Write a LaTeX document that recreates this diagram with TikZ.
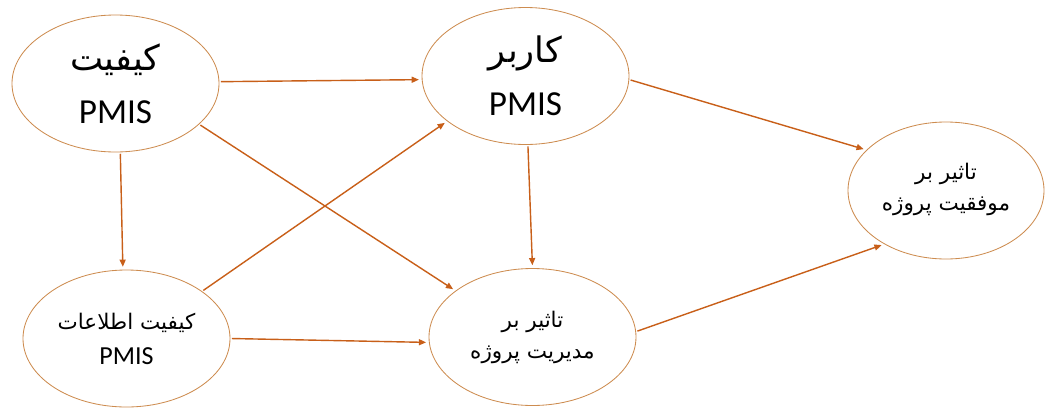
\documentclass[tikz,border=0pt]{standalone}
\usepackage{fontspec}
\setmainfont{Carlito}
\newfontfamily\arabicfont[Script=Arabic]{DejaVu Sans}
\TeXXeTstate=1
\usetikzlibrary{shapes.geometric,arrows.meta}
\definecolor{rimbrown}{RGB}{205,140,80}
\definecolor{linkorange}{RGB}{200,95,25}
\newcommand\farsi[1]{{\arabicfont\beginR #1\endR}}
\begin{document}
\begin{tikzpicture}[
    factor/.style={ellipse, draw=rimbrown, line width=0.6pt, inner sep=0pt,
        minimum width=5.175cm, minimum height=3.425cm, align=center},
    bigtext/.style={font=\fontsize{25}{38}\selectfont},
    smalltext/.style={font=\fontsize{15.3}{25}\selectfont},
    pairtext/.style={font=\fontsize{15.3}{22}\selectfont},
    link/.style={draw=linkorange, line width=1pt,
        -{Triangle[length=1.8mm,width=1.5mm]}, shorten >=2pt, shorten <=1pt}
]

    \useasboundingbox (0,0) rectangle (26.2,10.175);

    % Factors
    \node[factor, bigtext] (quality) at (2.8875,8.0875)
        {\farsi{کیفیت}\\PMIS};
    \node[factor, bigtext] (user) at (13.1375,8.275)
        {\farsi{کاربر}\\PMIS};
    \node[factor, smalltext] (infoquality) at (3.1625,1.7125)
        {\farsi{کیفیت اطلاعات}\\{\fontsize{18.5}{25}\selectfont PMIS}};
    \node[factor, pairtext] (management) at (13.3125,1.75)
        {\farsi{تاثیر بر}\\\farsi{مدیریت پروژه}};
    \node[factor, pairtext, minimum width=4.9cm] (success) at (23.65,5.4125)
        {\raisebox{0.2cm}{\farsi{تاثیر بر}}\\\raisebox{0.2cm}{\farsi{موفقیت پروژه}}};

    % Links
    \draw[link] (quality.1) -- (user.182);
    \draw[link] (quality.-26) -- (management.149);
    \draw[link] (quality.-86) -- (infoquality.93);
    \draw[link] (infoquality.32) -- (user.210);
    \draw[link] (infoquality.0) -- (management.183);
    \draw[link] (user.-88) -- (management.90);
    \draw[link] (user.-2) -- (success.153);
    \draw[link] (management.3) -- (success.221);

\end{tikzpicture}
\end{document}
